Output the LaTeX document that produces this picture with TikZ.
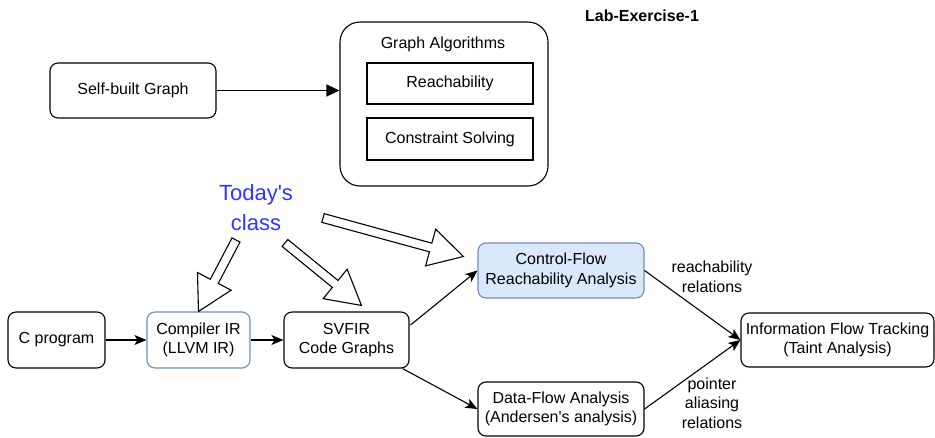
\documentclass[tikz,border=0pt]{standalone}
\usepackage{fontspec}
\setmainfont{Liberation Sans}
\usetikzlibrary{arrows.meta,calc}
\definecolor{bluebd}{RGB}{108,142,191}
\definecolor{bluefill}{RGB}{218,232,252}
\definecolor{todayblue}{RGB}{51,51,255}
\newcommand{\hollowarrow}[2]{%
  \coordinate (ha-h) at ($(#2)!34pt!(#1)$);
  \draw[line width=1.1pt, fill=white, line join=miter]
    ($(#1)!4.5pt!90:(#2)$) -- ($(ha-h)!4.5pt!90:(#2)$) -- ($(ha-h)!19pt!90:(#2)$)
    -- (#2) -- ($(ha-h)!19pt!-90:(#2)$) -- ($(ha-h)!4.5pt!-90:(#2)$)
    -- ($(#1)!4.5pt!-90:(#2)$) -- cycle;}
\begin{document}
\begin{tikzpicture}[x=1pt,y=-1pt,
  txt/.style={font=\fontsize{16}{19.5}\selectfont, align=center},
  box/.style={txt, draw, rounded corners=8pt, line width=1.1pt, inner sep=0pt},
  sqbox/.style={txt, draw, line width=1.1pt, inner sep=0pt},
  bluebox/.style={box, draw=bluebd},
  conn/.style={line width=1.1pt, -{Stealth[length=12pt,width=10pt,inset=3pt]}},
  blockconn/.style={line width=1.1pt, -{Triangle[length=13pt,width=12pt]}}]
\useasboundingbox (0,0) rectangle (935,437);

% top part
\node[txt, font=\fontsize{16}{19.5}\selectfont\bfseries] (lab) at (642,16) {Lab-Exercise-1};
\node[box, minimum width=166pt, minimum height=55pt] (self) at (133,90.5) {Self-built Graph};
\node[draw, rounded corners=20pt, line width=1.1pt, minimum width=208pt, minimum height=164pt, inner sep=0pt] (ga) at (444,104) {};
\node[txt] (gatitle) at (443,44) {Graph Algorithms};
\node[sqbox, minimum width=166pt, minimum height=41pt] (reach) at (450,83.5) {Reachability};
\node[sqbox, minimum width=166pt, minimum height=42pt] (cons) at (450,139) {Constraint Solving};
\draw[blockconn] (self.east) -- (self.east -| ga.west);

% bottom part
\node[box, minimum width=97pt, minimum height=56pt] (cprog) at (56.5,340) {C program};
\node[bluebox, minimum width=103pt, minimum height=56pt] (cir) at (198.5,340) {Compiler IR\\(LLVM IR)};
\node[box, minimum width=125pt, minimum height=56pt] (svfir) at (346.5,340) {SVFIR\\Code Graphs};
\node[bluebox, fill=bluefill, minimum width=166pt, minimum height=55pt] (cf) at (561,270.5) {Control-Flow\\Reachability Analysis};
\node[box, minimum width=166pt, minimum height=54pt] (df) at (561,409) {Data-Flow Analysis\\(Andersen\textquotesingle s analysis)};
\node[box, minimum width=193pt, minimum height=54pt] (info) at (837.5,340) {Information Flow Tracking\\(Taint Analysis)};

\node[txt] (lreach) at (712,277) {reachability\\relations};
\node[txt] (lptr) at (712,403) {pointer\\aliasing\\relations};

\node[font=\fontsize{22}{30}\selectfont, text=todayblue, align=center] (today) at (256,208) {Today\textquotesingle s\\class};

\draw[conn] (cprog.east) -- (cir.west);
\draw[conn] (cir.east) -- (svfir.west);
\draw[conn] ($(svfir.east)+(1,-15)$) -- (cf.west);
\draw[conn] ($(svfir.south east)+(-7,0)$) -- (df.west);
\draw[conn] (cf.east) -- (info.west);
\draw[conn] (df.east) -- (info.west);

% hollow block arrows from "Today's class"
\coordinate (t1) at (236,240);
\coordinate (t2) at (285,243);
\coordinate (t3) at (323,218);
\coordinate (e2) at ($(svfir.north)+(15,-6)$);
\coordinate (e3) at ($(cf.west)+(-14,-14)$);
\hollowarrow{t1}{cir.north}
\hollowarrow{t2}{e2}
\hollowarrow{t3}{e3}
\end{tikzpicture}
\end{document}
